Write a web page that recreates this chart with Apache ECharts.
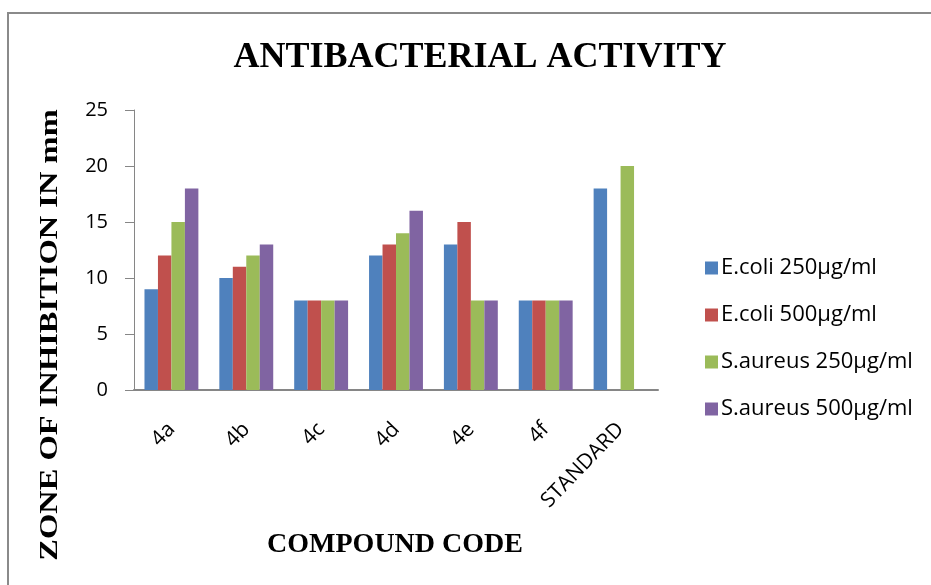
<!DOCTYPE html>
<html>
<head>
<meta charset="utf-8">
<script src="https://cdn.jsdelivr.net/npm/echarts@6/dist/echarts.min.js"></script>
<style>html,body{margin:0;padding:0;background:#fff}#c{width:931px;height:585px}</style>
</head>
<body>
<div id="c"></div>
<script>
var categories = ['4a', '4b', '4c', '4d', '4e', '4f', 'STANDARD'];
var seriesNames = ['E.coli 250µg/ml', 'E.coli 500µg/ml', 'S.aureus 250µg/ml', 'S.aureus 500µg/ml'];
var ecoli250 = [9, 10, 8, 12, 13, 8, 18];
var ecoli500 = [12, 11, 8, 13, 15, 8, null];
var saureus250 = [15, 12, 8, 14, 8, 8, 20];
var saureus500 = [18, 13, 8, 16, 8, 8, null];
var yTicks = [0, 5, 10, 15, 20, 25];
var colors = ['#4F81BD', '#C0504D', '#9BBB59', '#8064A2'];

var values = [ecoli250, ecoli500, saureus250, saureus500];
var sans = 'Open Sans';
var serif = 'Liberation Serif';

var chart = echarts.init(document.getElementById('c'), null, {renderer: 'canvas'});
chart.setOption({
  animation: false,
  backgroundColor: '#fff',
  title: {
    text: 'ANTIBACTERIAL ACTIVITY',
    left: 475, top: 35, textAlign: 'center',
    textStyle: {fontFamily: serif, fontWeight: 'bold', fontSize: 36, color: '#000'}
  },
  graphic: [
    {type: 'polyline', shape: {points: [[8, 600], [8, 13], [940, 13]]}, style: {stroke: '#8a8a8a', lineWidth: 2, fill: null}, silent: true},
    {type: 'text', x: 51, y: 335, rotation: Math.PI / 2, scaleX: 1.3, silent: true,
      style: {text: 'ZONE OF INHIBITION IN mm', fontFamily: serif, fontWeight: 'bold', fontSize: 25,
        fill: '#000', align: 'center', verticalAlign: 'middle'}},
    {type: 'text', x: 395, y: 545, silent: true,
      style: {text: 'COMPOUND CODE', fontFamily: serif, fontWeight: 'bold', fontSize: 28,
        fill: '#000', align: 'center', verticalAlign: 'middle'}}
  ],
  legend: {
    orient: 'vertical', left: 700, top: 252,
    itemWidth: 13, itemHeight: 13, itemGap: 25,
    icon: 'rect',
    textStyle: {fontFamily: sans, fontSize: 22, color: '#000', padding: [0, 0, 0, -2]},
    data: seriesNames
  },
  grid: {left: 134, right: 273, top: 110, bottom: 195, containLabel: false},
  xAxis: {
    type: 'category', data: categories,
    axisLine: {lineStyle: {color: '#868686', width: 2}},
    axisTick: {show: false},
    axisLabel: {rotate: 46, fontFamily: sans, fontSize: 21, color: '#000', margin: 36}
  },
  yAxis: {
    type: 'value', min: 0, max: 25, interval: 5,
    axisLine: {show: true, lineStyle: {color: '#868686', width: 1}},
    axisTick: {show: true, length: 9, lineStyle: {color: '#868686'}},
    splitLine: {show: false},
    axisLabel: {fontFamily: sans, fontSize: 20, color: '#000', margin: 26,
      formatter: function (v) { return yTicks.indexOf(v) >= 0 ? String(v) : ''; }}
  },
  series: seriesNames.map(function (n, i) {
    return {
      name: n, type: 'bar', data: values[i],
      barGap: '0%', barCategoryGap: '28%',
      itemStyle: {color: colors[i]}
    };
  })
});
</script>
</body>
</html>
